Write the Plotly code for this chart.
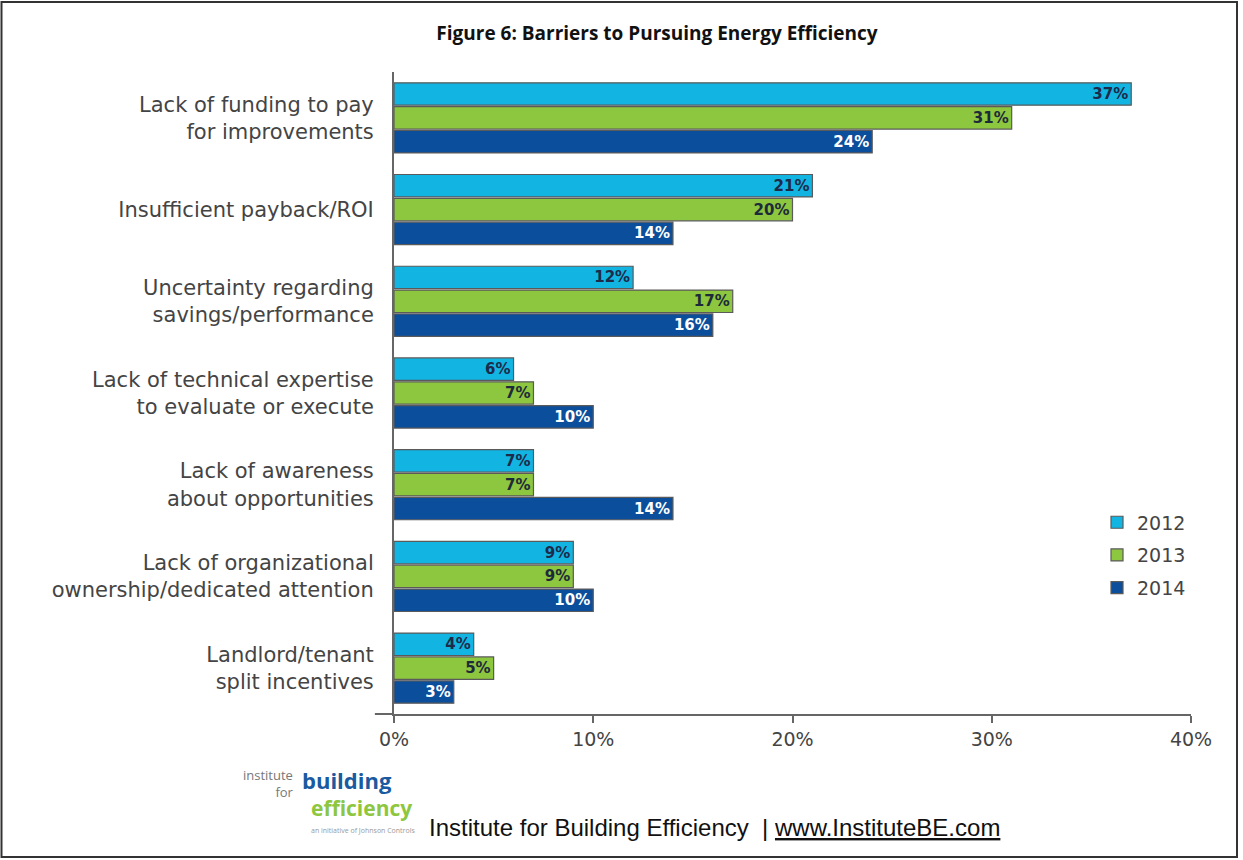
import plotly.graph_objects as go

categories = [
    "Lack of funding to pay<br>for improvements",
    "Insufficient payback/ROI",
    "Uncertainty regarding<br>savings/performance",
    "Lack of technical expertise<br>to evaluate or execute",
    "Lack of awareness<br>about opportunities",
    "Lack of organizational<br>ownership/dedicated attention",
    "Landlord/tenant<br>split incentives",
]
years = ["2012", "2013", "2014"]
values_2012 = [37, 21, 12, 6, 7, 9, 4]
values_2013 = [31, 20, 17, 7, 7, 9, 5]
values_2014 = [24, 14, 16, 10, 14, 10, 3]
x_ticks = [0, 10, 20, 30, 40]
x_tick_labels = ["0%", "10%", "20%", "30%", "40%"]

series = [values_2012, values_2013, values_2014]
colors = ["#12B5E2", "#8DC63F", "#0B4F9C"]
text_colors = ["#1d2a4a", "#1d2a3a", "#ffffff"]

LABEL_FONT = "DejaVu Sans"

fig = go.Figure()
for yr, vals, c, tc in zip(years, series, colors, text_colors):
    fig.add_trace(go.Bar(
        y=categories, x=vals, name=yr, orientation="h", legendgroup=yr,
        marker=dict(color=c, line=dict(color="#5a5a5a", width=1.2)),
        text=[f"{v}%" for v in vals], textposition="inside",
        insidetextanchor="end", textangle=0, constraintext="none",
        textfont=dict(family=LABEL_FONT, size=15, color=tc, weight="bold"),
        cliponaxis=False,
    ))

fig.update_layout(
    width=1243, height=860,
    paper_bgcolor="white", plot_bgcolor="white",
    margin=dict(l=394, r=52, t=72, b=146),
    barmode="group", bargap=0.22, bargroupgap=0.06,
    showlegend=True,
    legend=dict(x=1.0, y=0.328, xanchor="right", yanchor="top",
                font=dict(family=LABEL_FONT, size=19, color="#444"),
                tracegroupgap=5, bgcolor="rgba(0,0,0,0)"),
    title=dict(text="<b>Figure 6: Barriers to Pursuing Energy Efficiency</b>",
               x=657 / 1243, xref="container", xanchor="center",
               y=1 - 33 / 860, yanchor="middle",
               font=dict(family="Open Sans", size=19, color="#111")),
    font=dict(family=LABEL_FONT),
)

fig.update_xaxes(range=[0, 40], tickmode="array", tickvals=x_ticks,
                 ticktext=x_tick_labels,
                 showgrid=False, zeroline=False, showline=True,
                 linecolor="#666", linewidth=2, ticks="outside", ticklen=7,
                 tickcolor="#666", tickwidth=2,
                 tickfont=dict(family=LABEL_FONT, size=19, color="#444"))
fig.update_yaxes(autorange="reversed", showgrid=False, showline=True,
                 linecolor="#666", linewidth=2, ticks="",
                 ticklabelstandoff=14,
                 tickfont=dict(family=LABEL_FONT, size=21, color="#444"))

# extend x axis line to the left
fig.add_shape(type="line", xref="paper", yref="paper",
              x0=-0.024, x1=0, y0=0, y1=0, line=dict(color="#666", width=2))
# frame
fig.add_shape(type="rect", xref="paper", yref="paper",
              x0=-392.5 / 797, x1=1 + 46 / 797,
              y0=-143 / 642, y1=1 + 70 / 642,
              line=dict(color="#333", width=2))

# logo
def px_x(px):
    return (px - 394) / 797

def px_y(py):
    return (714 - py) / 642

fig.add_annotation(text="institute<br>for", align="right",
                   xref="paper", yref="paper", x=px_x(296), y=px_y(784),
                   showarrow=False, xanchor="right", yanchor="middle",
                   font=dict(family="Open Sans", size=13, color="#777"))
logo = [
    ("building", 347, 780, 22, "#1a5aa0", True),
    ("efficiency", 361, 808, 21, "#8DC63F", True),
    ("an initiative of Johnson Controls", 363, 830, 7, "#999", False),
]
for txt, px, py, sz, col, bold in logo:
    fig.add_annotation(text=f"<b>{txt}</b>" if bold else txt,
                       xref="paper", yref="paper", x=px_x(px), y=px_y(py),
                       showarrow=False, xanchor="center", yanchor="middle",
                       font=dict(family="Open Sans", size=sz, color=col))
fig.add_annotation(text="Institute for Building Efficiency  | <u>www.InstituteBE.com</u>",
                   xref="paper", yref="paper", x=px_x(427), y=px_y(828),
                   showarrow=False, xanchor="left", yanchor="middle",
                   font=dict(family="Liberation Sans", size=24, color="#111"))

fig.write_html("out.html", config={"displayModeBar": False},
               post_script="document.body.style.margin='0';")
